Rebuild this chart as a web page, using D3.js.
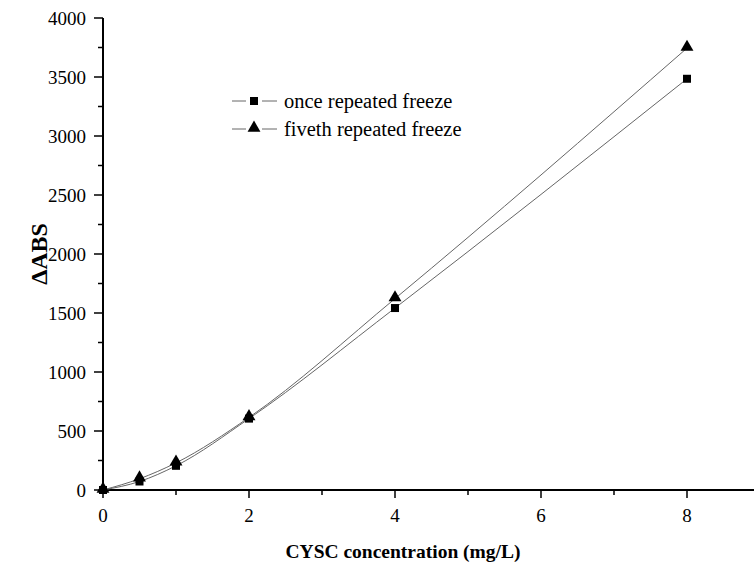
<!DOCTYPE html>
<html>
<head>
<meta charset="utf-8">
<script src="https://cdn.jsdelivr.net/npm/d3@7"></script>
<style>
  body { margin: 0; background: #fff; }
  text { font-family: "Liberation Serif", "Times New Roman", serif; }
</style>
</head>
<body>
<script>
// concentration levels (mg/L)
const conc = [0, 0.5, 1, 2, 4, 8];
// delta ABS readings
const onceFreeze = [0, 72, 205, 605, 1542, 3485];
const fifthFreeze = [0, 95, 230, 615, 1622, 3745];
const seriesNames = ["once repeated freeze", "fiveth repeated freeze"];
const xTicks = [0, 2, 4, 6, 8];
const yTicks = [0, 500, 1000, 1500, 2000, 2500, 3000, 3500, 4000];

const width = 754, height = 568;
const svg = d3.select("body").append("svg")
  .attr("width", width).attr("height", height);

var x = d3.scaleLinear().domain([0, 9]).range([103, 760]);
var y = d3.scaleLinear().domain([0, 4000]).range([490, 18]);

// axes
const xAxis = svg.append("g").attr("transform", `translate(0,${y(0)})`);
xAxis.append("line").attr("x1", x(0)).attr("x2", width).attr("stroke", "#000").attr("stroke-width", 2);
xAxis.selectAll("line.minor").data(d3.range(1, 9, 2)).join("line")
  .attr("class", "minor").attr("x1", d => x(d)).attr("x2", d => x(d))
  .attr("y1", 0).attr("y2", 5).attr("stroke", "#000").attr("stroke-width", 1.5);
xAxis.selectAll("line.major").data(xTicks).join("line")
  .attr("class", "major").attr("x1", d => x(d)).attr("x2", d => x(d))
  .attr("y1", 0).attr("y2", 8).attr("stroke", "#000").attr("stroke-width", 1.5);
xAxis.selectAll("text").data(xTicks).join("text")
  .attr("x", d => x(d)).attr("y", 32).attr("text-anchor", "middle")
  .attr("font-size", 19).text(d => d);

const yAxis = svg.append("g").attr("transform", `translate(${x(0)},0)`);
yAxis.append("line").attr("y1", y(0) + 1).attr("y2", y(4000)).attr("stroke", "#000").attr("stroke-width", 2);
yAxis.selectAll("line.minor").data(d3.range(250, 4000, 500)).join("line")
  .attr("class", "minor").attr("y1", d => y(d)).attr("y2", d => y(d))
  .attr("x1", 0).attr("x2", -5).attr("stroke", "#000").attr("stroke-width", 1.5);
yAxis.selectAll("line.major").data(yTicks).join("line")
  .attr("class", "major").attr("y1", d => y(d)).attr("y2", d => y(d))
  .attr("x1", 0).attr("x2", -9).attr("stroke", "#000").attr("stroke-width", 1.5);
yAxis.selectAll("text").data(yTicks).join("text")
  .attr("x", -17).attr("y", d => y(d)).attr("dy", "0.35em").attr("text-anchor", "end")
  .attr("font-size", 19).text(d => d);

// titles
svg.append("text").attr("x", 403).attr("y", 558).attr("text-anchor", "middle")
  .attr("font-size", 19.5).attr("font-weight", "bold").text("CYSC concentration (mg/L)");
svg.append("text").attr("transform", `translate(47,${y(2000)}) rotate(-90)`)
  .attr("text-anchor", "middle").attr("font-size", 24).attr("font-weight", "bold").text("ΔABS");

// curves
const line = d3.line().x(d => x(d[0])).y(d => y(d[1])).curve(d3.curveMonotoneX);
const series = [onceFreeze, fifthFreeze].map(v => conc.map((c, i) => [c, v[i]]));
series.forEach(s => {
  svg.append("path").datum(s).attr("d", line)
    .attr("fill", "none").attr("stroke", "#666").attr("stroke-width", 1);
});

const sq = d3.symbol().type(d3.symbolSquare).size(64);
const tri = d3.symbol().type(d3.symbolTriangle).size(72);
svg.selectAll("path.sq").data(series[0]).join("path").attr("class", "sq")
  .attr("transform", d => `translate(${x(d[0])},${y(d[1])})`).attr("d", sq).attr("fill", "#000");
svg.selectAll("path.tri").data(series[1]).join("path").attr("class", "tri")
  .attr("transform", d => `translate(${x(d[0])},${y(d[1]) - 1})`).attr("d", tri).attr("fill", "#000");

// legend
const legend = svg.append("g");
[sq, tri].forEach((sym, i) => {
  const ly = 101 + i * 28;
  legend.append("line").attr("x1", 232).attr("x2", 246).attr("y1", ly).attr("y2", ly)
    .attr("stroke", "#666").attr("stroke-width", 1);
  legend.append("line").attr("x1", 262).attr("x2", 277).attr("y1", ly).attr("y2", ly)
    .attr("stroke", "#666").attr("stroke-width", 1);
  legend.append("path").attr("d", sym).attr("fill", "#000")
    .attr("transform", `translate(254,${ly - (i ? 1 : 0)})`);
  legend.append("text").attr("x", 284).attr("y", ly).attr("dy", "0.35em")
    .attr("font-size", 20.5).text(seriesNames[i]);
});
</script>
</body>
</html>
